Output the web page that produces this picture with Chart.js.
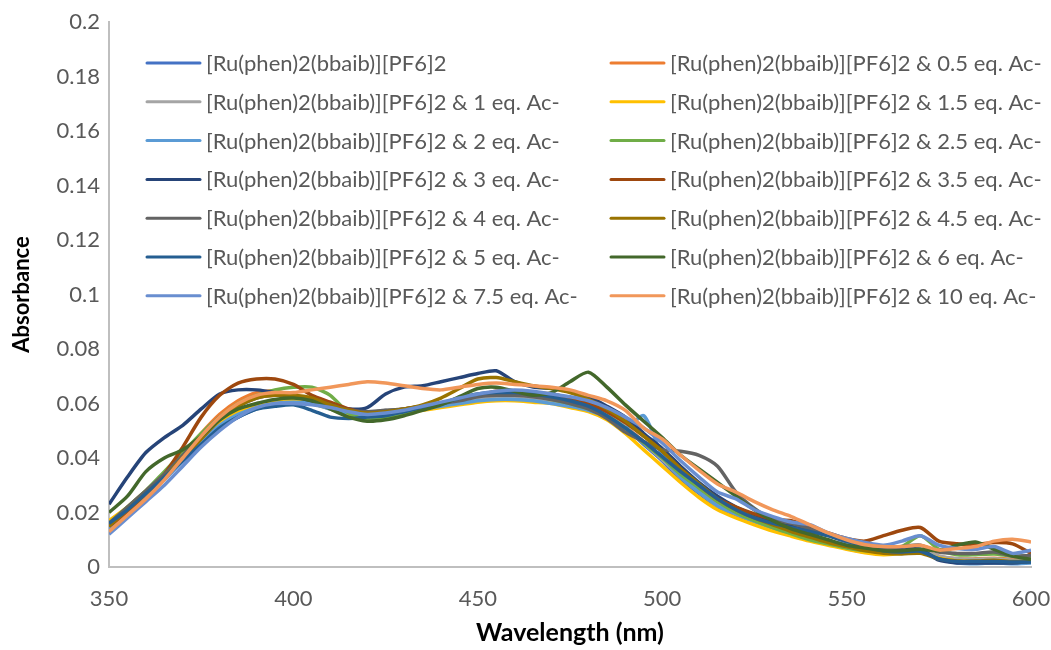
<!DOCTYPE html>
<html>
<head>
<meta charset="utf-8">
<script src="https://cdn.jsdelivr.net/npm/chart.js@4/dist/chart.umd.min.js"></script>
<style>
  html, body { margin: 0; padding: 0; background: #ffffff; }
  canvas { display: block; }
</style>
</head>
<body>
<canvas id="chart" width="1051" height="650"></canvas>
<script>
// Wavelength grid (nm), 5 nm steps from 350 to 600
const wavelengths = [350,355,360,365,370,375,380,385,390,395,400,405,410,415,420,425,430,435,440,445,450,455,460,465,470,475,480,485,490,495,500,505,510,515,520,525,530,535,540,545,550,555,560,565,570,575,580,585,590,595,600];

const xTickValues = [350, 400, 450, 500, 550, 600];
const xTickLabels = ['350', '400', '450', '500', '550', '600'];
const yTickValues = [0, 0.02, 0.04, 0.06, 0.08, 0.1, 0.12, 0.14, 0.16, 0.18, 0.2];
const yTickLabels = ['0', '0.02', '0.04', '0.06', '0.08', '0.1', '0.12', '0.14', '0.16', '0.18', '0.2'];

const seriesNames = [
  '[Ru(phen)2(bbaib)][PF6]2',
  '[Ru(phen)2(bbaib)][PF6]2 & 0.5 eq. Ac-',
  '[Ru(phen)2(bbaib)][PF6]2 & 1 eq. Ac-',
  '[Ru(phen)2(bbaib)][PF6]2 & 1.5 eq. Ac-',
  '[Ru(phen)2(bbaib)][PF6]2 & 2 eq. Ac-',
  '[Ru(phen)2(bbaib)][PF6]2 & 2.5 eq. Ac-',
  '[Ru(phen)2(bbaib)][PF6]2 & 3 eq. Ac-',
  '[Ru(phen)2(bbaib)][PF6]2 & 3.5 eq. Ac-',
  '[Ru(phen)2(bbaib)][PF6]2 & 4 eq. Ac-',
  '[Ru(phen)2(bbaib)][PF6]2 & 4.5 eq. Ac-',
  '[Ru(phen)2(bbaib)][PF6]2 & 5 eq. Ac-',
  '[Ru(phen)2(bbaib)][PF6]2 & 6 eq. Ac-',
  '[Ru(phen)2(bbaib)][PF6]2 & 7.5 eq. Ac-',
  '[Ru(phen)2(bbaib)][PF6]2 & 10 eq. Ac-'
];

const seriesColors = ['#4472C4','#ED7D31','#A5A5A5','#FFC000','#5B9BD5','#70AD47','#264478','#9E480E','#636363','#997300','#255E91','#43682B','#698ED0','#F1975A'];

// Absorbance of each titration step
const abs0eq   = [0.014,0.020,0.026,0.032,0.039,0.045,0.051,0.055,0.058,0.0595,0.0605,0.060,0.0585,0.0565,0.056,0.0565,0.057,0.058,0.059,0.060,0.061,0.0615,0.062,0.0612,0.0605,0.0595,0.058,0.0555,0.051,0.045,0.039,0.032,0.027,0.022,0.019,0.0165,0.014,0.012,0.010,0.0085,0.0068,0.0055,0.0048,0.0052,0.0058,0.0035,0.0025,0.0022,0.0025,0.0020,0.0022];
const abs05eq  = [0.013,0.019,0.026,0.034,0.041,0.049,0.056,0.061,0.064,0.0645,0.063,0.061,0.059,0.057,0.056,0.0565,0.0575,0.0585,0.0595,0.0605,0.0615,0.062,0.062,0.0615,0.061,0.060,0.0585,0.056,0.0515,0.046,0.040,0.0335,0.028,0.023,0.0195,0.017,0.0145,0.0125,0.0105,0.009,0.0075,0.006,0.0052,0.0058,0.0062,0.004,0.003,0.003,0.0032,0.0028,0.003];
const abs1eq   = [0.015,0.021,0.027,0.034,0.040,0.047,0.053,0.057,0.060,0.061,0.0615,0.061,0.0595,0.058,0.057,0.0575,0.058,0.059,0.060,0.061,0.062,0.0625,0.0625,0.062,0.061,0.060,0.0585,0.056,0.0515,0.0455,0.0395,0.033,0.0275,0.0225,0.0195,0.017,0.0145,0.0125,0.0105,0.009,0.0072,0.006,0.005,0.0055,0.006,0.004,0.003,0.0028,0.003,0.0025,0.0028];
const abs15eq  = [0.017,0.022,0.028,0.034,0.041,0.047,0.053,0.057,0.0595,0.0605,0.061,0.060,0.058,0.056,0.055,0.0555,0.0565,0.0575,0.0585,0.0595,0.0605,0.061,0.061,0.0605,0.060,0.0585,0.057,0.054,0.049,0.043,0.037,0.031,0.0255,0.021,0.018,0.0155,0.0132,0.0113,0.0095,0.008,0.0065,0.0052,0.0045,0.005,0.0055,0.0033,0.0022,0.002,0.0022,0.0018,0.002];
const abs2eq   = [0.014,0.020,0.026,0.032,0.039,0.046,0.052,0.056,0.0585,0.060,0.0605,0.060,0.058,0.0565,0.0555,0.056,0.057,0.058,0.059,0.060,0.061,0.0615,0.0615,0.061,0.060,0.059,0.0575,0.055,0.051,0.0555,0.041,0.033,0.0275,0.0225,0.0195,0.0168,0.0145,0.0125,0.011,0.0095,0.0085,0.007,0.0055,0.0055,0.006,0.003,0.0015,0.0012,0.0015,0.0012,0.0015];
const abs25eq  = [0.016,0.022,0.028,0.035,0.042,0.049,0.055,0.060,0.063,0.065,0.066,0.066,0.063,0.0565,0.054,0.055,0.0565,0.058,0.060,0.0615,0.063,0.0635,0.0635,0.063,0.0615,0.060,0.058,0.0555,0.051,0.0455,0.040,0.034,0.029,0.024,0.020,0.017,0.0145,0.0122,0.010,0.0085,0.007,0.006,0.0058,0.0075,0.0115,0.0065,0.0045,0.0045,0.0048,0.004,0.004];
const abs3eq   = [0.023,0.033,0.042,0.0475,0.052,0.058,0.0635,0.065,0.065,0.064,0.0625,0.061,0.0595,0.058,0.0585,0.0635,0.066,0.0665,0.068,0.0695,0.071,0.072,0.068,0.066,0.0655,0.0645,0.0625,0.059,0.055,0.049,0.0435,0.037,0.031,0.026,0.022,0.019,0.017,0.015,0.0135,0.0115,0.0095,0.0085,0.0075,0.0065,0.0065,0.0025,0.0015,0.0015,0.0015,0.0015,0.002];
const abs35eq  = [0.015,0.020,0.027,0.034,0.044,0.055,0.063,0.0675,0.069,0.069,0.067,0.063,0.0605,0.058,0.0565,0.057,0.058,0.059,0.060,0.0615,0.063,0.0645,0.0645,0.064,0.0635,0.062,0.060,0.057,0.053,0.048,0.0425,0.036,0.030,0.025,0.022,0.0195,0.0175,0.017,0.015,0.0125,0.0105,0.0095,0.0115,0.0135,0.0145,0.0095,0.0085,0.0082,0.009,0.0085,0.005];
const abs4eq   = [0.016,0.022,0.028,0.034,0.041,0.048,0.055,0.059,0.062,0.063,0.0625,0.0615,0.0595,0.0575,0.057,0.0575,0.058,0.059,0.060,0.061,0.0625,0.063,0.063,0.0625,0.0615,0.060,0.058,0.0545,0.0495,0.046,0.043,0.0425,0.041,0.037,0.0275,0.0215,0.0175,0.016,0.014,0.012,0.0095,0.008,0.007,0.0075,0.008,0.0055,0.005,0.005,0.0055,0.004,0.0042];
const abs45eq  = [0.015,0.021,0.027,0.033,0.040,0.047,0.054,0.059,0.062,0.063,0.063,0.062,0.0595,0.0575,0.0565,0.057,0.058,0.0595,0.062,0.0655,0.069,0.0695,0.068,0.0665,0.0655,0.064,0.0615,0.058,0.0535,0.048,0.0425,0.036,0.0305,0.025,0.021,0.018,0.0155,0.013,0.011,0.009,0.0075,0.006,0.005,0.0048,0.005,0.003,0.0022,0.0022,0.0025,0.002,0.002];
const abs5eq   = [0.016,0.021,0.027,0.033,0.039,0.045,0.051,0.055,0.058,0.059,0.0595,0.0575,0.055,0.0545,0.055,0.0555,0.057,0.0585,0.060,0.062,0.0635,0.064,0.064,0.0635,0.0625,0.061,0.059,0.0555,0.051,0.046,0.0405,0.035,0.030,0.025,0.021,0.018,0.016,0.0145,0.013,0.0115,0.0095,0.0075,0.006,0.0055,0.0058,0.003,0.002,0.002,0.002,0.0018,0.0018];
const abs6eq   = [0.020,0.026,0.035,0.040,0.043,0.048,0.054,0.058,0.060,0.0615,0.062,0.061,0.058,0.055,0.0535,0.054,0.0555,0.0575,0.0595,0.0625,0.0655,0.066,0.0645,0.063,0.064,0.068,0.0715,0.066,0.0595,0.0535,0.0475,0.041,0.036,0.031,0.026,0.021,0.017,0.014,0.012,0.010,0.008,0.007,0.006,0.006,0.0065,0.006,0.008,0.0092,0.0065,0.004,0.0028];
const abs75eq  = [0.012,0.018,0.024,0.030,0.037,0.044,0.050,0.055,0.0585,0.060,0.060,0.0595,0.0585,0.057,0.056,0.0565,0.0575,0.059,0.0605,0.062,0.0635,0.0645,0.065,0.0645,0.0635,0.0625,0.061,0.0585,0.055,0.051,0.0455,0.039,0.033,0.0275,0.025,0.021,0.0185,0.0165,0.0155,0.0125,0.0105,0.009,0.008,0.0095,0.0115,0.008,0.0068,0.0065,0.0075,0.005,0.0062];
const abs10eq  = [0.013,0.019,0.025,0.032,0.040,0.048,0.055,0.060,0.063,0.064,0.064,0.065,0.066,0.067,0.068,0.0675,0.0665,0.0655,0.065,0.066,0.067,0.0675,0.067,0.0665,0.066,0.065,0.063,0.061,0.0575,0.051,0.047,0.041,0.0355,0.0305,0.0275,0.024,0.021,0.0185,0.0155,0.0125,0.010,0.0082,0.0075,0.0075,0.008,0.0062,0.0068,0.0075,0.0095,0.0102,0.0092];

const seriesValues = [abs0eq, abs05eq, abs1eq, abs15eq, abs2eq, abs25eq, abs3eq, abs35eq, abs4eq, abs45eq, abs5eq, abs6eq, abs75eq, abs10eq];

const FONT = 'Lato, "Open Sans", sans-serif';
const TEXT_GREY = '#595959';

const datasets = seriesValues.map((vals, i) => ({
  label: seriesNames[i],
  data: wavelengths.map((w, k) => ({ x: w, y: vals[k] })),
  borderColor: seriesColors[i],
  backgroundColor: seriesColors[i],
  borderWidth: 3.5,
  pointRadius: 0,
  tension: 0.25,
  fill: false,
  // later series are painted over earlier ones
  order: seriesValues.length - 1 - i
}));

// Two-column legend laid out inside the plot area
const insetLegend = {
  id: 'insetLegend',
  afterDraw(chart) {
    const ctx = chart.ctx;
    const colX = [147, 611];
    const top = 63, rowGap = 38.8, swatch = 53, gap = 6;
    ctx.save();
    ctx.font = '22px ' + FONT;
    ctx.textBaseline = 'middle';
    ctx.textAlign = 'left';
    chart.data.datasets.forEach((ds, i) => {
      const x = colX[i % 2];
      const y = top + Math.floor(i / 2) * rowGap;
      ctx.strokeStyle = ds.borderColor;
      ctx.lineWidth = 3;
      ctx.lineCap = 'round';
      ctx.beginPath();
      ctx.moveTo(x, y);
      ctx.lineTo(x + swatch, y);
      ctx.stroke();
      ctx.fillStyle = TEXT_GREY;
      ctx.fillText(ds.label, x + swatch + gap, y + 1);
    });
    ctx.restore();
  }
};

new Chart(document.getElementById('chart'), {
  type: 'line',
  data: { datasets },
  options: {
    responsive: false,
    animation: false,
    devicePixelRatio: 1,
    layout: { padding: { top: 22, right: 20, left: 0, bottom: 0 } },
    plugins: { legend: { display: false }, tooltip: { enabled: false } },
    scales: {
      x: {
        type: 'linear',
        min: 350, max: 600,
        afterBuildTicks: s => { s.ticks = xTickValues.map(v => ({ value: v })); },
        afterFit: s => { s.height = 83; s.paddingLeft = 0; s.paddingRight = 0; },
        grid: { display: false, drawTicks: false },
        border: { display: true, color: '#BFBFBF', width: 2 },
        ticks: {
          color: TEXT_GREY, font: { family: FONT, size: 22 }, padding: 19,
          maxRotation: 0, autoSkip: false,
          callback: (v, i) => xTickLabels[i]
        },
        title: {
          display: true, text: 'Wavelength (nm)', color: '#000000',
          font: { family: FONT, size: 25, weight: 'bold' },
          padding: { top: 0, bottom: 2 }
        }
      },
      y: {
        type: 'linear',
        min: 0, max: 0.2,
        afterBuildTicks: s => { s.ticks = yTickValues.map(v => ({ value: v })); },
        afterFit: s => { s.width = 109; s.paddingTop = 0; s.paddingBottom = 0; },
        grid: { display: false, drawTicks: false },
        border: { display: true, color: '#BFBFBF', width: 2 },
        ticks: {
          color: TEXT_GREY, font: { family: FONT, size: 22 }, padding: 9,
          autoSkip: false,
          callback: (v, i) => yTickLabels[i]
        },
        title: {
          display: true, text: 'Absorbance', color: '#000000',
          font: { family: FONT, size: 22, weight: 'bold' },
          padding: { top: 9, bottom: 0 }
        }
      }
    }
  },
  plugins: [insetLegend]
});
</script>
</body>
</html>
